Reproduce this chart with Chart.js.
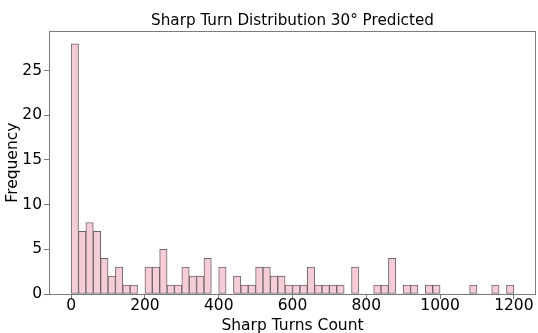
<!DOCTYPE html>
<html>
<head>
<meta charset="utf-8">
<script src="https://cdn.jsdelivr.net/npm/chart.js@4.4.1/dist/chart.umd.min.js"></script>
<style>
  html, body { margin: 0; padding: 0; background: #fff; }
  #wrap { width: 538px; height: 333px; position: relative; }
</style>
</head>
<body>
<div id="wrap"><canvas id="turns-chart"></canvas></div>
<script>
// histogram bins: 60 bins of width 20 starting at 0
const binStart = 0
const binWidth = 20
const counts = [
  28, 7, 8, 7, 4, 2, 3, 1, 1, 0,
  3, 3, 5, 1, 1, 3, 2, 2, 4, 0,
  3, 0, 2, 1, 1, 3, 3, 2, 2, 1,
  1, 1, 3, 1, 1, 1, 1, 0, 3, 0,
  0, 1, 1, 4, 0, 1, 1, 0, 1, 1,
  0, 0, 0, 0, 1, 0, 0, 1, 0, 1
]
const xTicks = [0, 200, 400, 600, 800, 1000, 1200]
const yTicks = [0, 5, 10, 15, 20, 25]

const points = counts.map((c, i) => ({ x: binStart + i * binWidth + binWidth / 2, y: c }))
const xMax = binStart + counts.length * binWidth
const xPad = (xMax - binStart) * 0.05
const yTop = Math.max(...counts) * 1.05

const font = { family: 'DejaVu Sans', size: 15.5 }
const frameColor = '#7c7c7c'

// draw the full box around the plot area
const frame = {
  id: 'frame',
  afterDatasetsDraw(chart) {
    const { ctx, chartArea: a } = chart
    ctx.save()
    ctx.strokeStyle = frameColor
    ctx.lineWidth = 1
    ctx.strokeRect(Math.round(a.left) + 0.5, Math.round(a.top) + 0.5,
      Math.round(a.right - a.left) - 1, Math.round(a.bottom - a.top))
    ctx.restore()
  }
}

Chart.defaults.font.family = 'DejaVu Sans'
Chart.defaults.color = '#000'

new Chart(document.getElementById('turns-chart').getContext('2d'), {
  type: 'bar',
  data: {
    datasets: [{
      data: points,
      backgroundColor: '#f6cdd6',
      borderColor: '#6f6467',
      borderWidth: c => (c.raw && c.raw.y === 0 ? 0 : 1),
      borderSkipped: false,
      barPercentage: 1,
      categoryPercentage: 1
    }]
  },
  options: {
    responsive: true,
    maintainAspectRatio: false,
    animation: false,
    layout: { padding: { left: 0, right: 2, top: 0, bottom: 0 } },
    plugins: {
      legend: { display: false },
      tooltip: { enabled: false },
      title: {
        display: true,
        fullSize: false,
        text: 'Sharp Turn Distribution 30° Predicted',
        font: { family: 'DejaVu Sans', size: 15.2, weight: 'normal' },
        color: '#000',
        padding: { top: 12, bottom: 1 }
      }
    },
    scales: {
      x: {
        type: 'linear',
        offset: false,
        min: binStart - xPad,
        max: xMax + xPad,
        afterBuildTicks: s => { s.ticks = xTicks.map(v => ({ value: v })) },
        afterFit: s => { s.height = 39 },
        ticks: { font, color: '#000', padding: -2, maxRotation: 0, callback: v => String(v) },
        grid: { display: true, offset: false, drawOnChartArea: false, drawTicks: true, tickLength: 5, color: frameColor },
        border: { display: false },
        title: { display: true, text: 'Sharp Turns Count', font, color: '#000', padding: { top: 0, bottom: -2 } }
      },
      y: {
        min: 0,
        max: yTop,
        afterBuildTicks: s => { s.ticks = yTicks.map(v => ({ value: v })) },
        afterFit: s => { s.width = 49 },
        ticks: { font, color: '#000', padding: 2, callback: v => String(v) },
        grid: { display: true, drawOnChartArea: false, drawTicks: true, tickLength: 5, color: frameColor },
        border: { display: false },
        title: { display: true, text: 'Frequency', font, color: '#000', padding: { top: 4, bottom: 0 } }
      }
    }
  },
  plugins: [frame]
})
</script>
</body>
</html>
